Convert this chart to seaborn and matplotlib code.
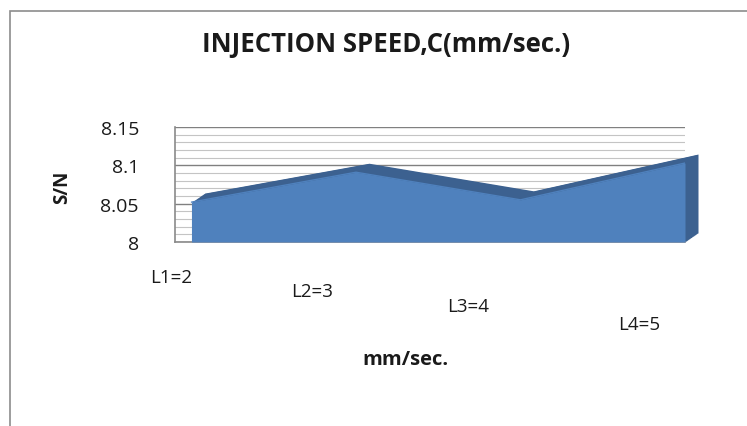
import numpy as np
import pandas as pd
import matplotlib
matplotlib.use("Agg")
import matplotlib.pyplot as plt
import matplotlib.transforms as mtransforms
from matplotlib.patches import Rectangle
import seaborn as sns

# ---- data ----
categories = ["L1=2", "L2=3", "L3=4", "L4=5"]
sn_values = [8.052, 8.091, 8.055, 8.103]
y_ticks = [8.0, 8.05, 8.1, 8.15]
y_tick_labels = ["8", "8.05", "8.1", "8.15"]
title = "INJECTION SPEED,C(mm/sec.)"
x_label = "mm/sec."
y_label = "S/N"

sns.set_style("white")
plt.rcParams["font.family"] = ["Open Sans", "DejaVu Sans"]

FRONT = "#4F81BD"
DARK = "#3C6190"
TXT = "#1A1A1A"

fig = plt.figure(figsize=(7.47, 4.27), dpi=100)
W, H = 747, 427

# outer chart border
fig.patches.append(Rectangle((10 / W, -0.1), 1.2, (H - 12) / H + 0.1,
                             transform=fig.transFigure, fill=False,
                             edgecolor="#8C8C8C", lw=1.2))

ax = fig.add_axes([175 / W, (H - 243) / H, 510 / W, 115 / H])
df = pd.DataFrame({"pos": np.arange(len(categories)), "sn": sn_values})

ax.set_xlim(-0.1, len(categories) - 1)
ax.set_ylim(y_ticks[0], y_ticks[-1])

# gridlines
ax.set_yticks(y_ticks)
ax.set_yticklabels(y_tick_labels)
ax.set_yticks(np.arange(8.0, 8.1501, 0.01), minor=True)
ax.grid(axis="y", which="major", color="#808080", lw=1.0)
ax.grid(axis="y", which="minor", color="#C4C4C4", lw=0.8)
ax.set_axisbelow(True)

# depth extrusion (dark top/side faces)
N = 16
dx, dy = 13.0, 9.0
for k in range(N, 0, -1):
    tr = ax.transData + mtransforms.Affine2D().translate(dx * k / N, dy * k / N)
    ax.fill_between(df["pos"], y_ticks[0], df["sn"], color=DARK, lw=0,
                    transform=tr, clip_on=False, zorder=2)

# front face
ax.fill_between(df["pos"], y_ticks[0], df["sn"], color=FRONT, lw=0, zorder=3)
sns.lineplot(data=df, x="pos", y="sn", color=FRONT, lw=1, ax=ax, zorder=4)

# spines
for s in ["top", "right"]:
    ax.spines[s].set_visible(False)
for s in ["left", "bottom"]:
    ax.spines[s].set_color("#8A8A8A")
    ax.spines[s].set_linewidth(1.2)

ax.tick_params(axis="y", which="both", length=0, pad=26, labelsize=14, labelcolor=TXT)
ax.set_xticks([])
ax.set_xlabel("")
ax.set_ylabel("")

# category labels, staggered as in the reference perspective
label_offsets = [(-20, -35), (-44, -49), (-52, -64), (-46, -82)]
for i, (lab, (ox, oy)) in enumerate(zip(categories, label_offsets)):
    ax.annotate(lab, xy=(i, 0), xycoords=("data", "axes fraction"),
                xytext=(ox, oy), textcoords="offset pixels",
                ha="center", va="center", fontsize=13.5, color=TXT)

fig.text(386 / W, 1 - 44 / H, title, ha="center", va="center",
         fontsize=18.5, fontweight="bold", color=TXT)
fig.text(62 / W, 1 - 187 / H, y_label, ha="center", va="center",
         rotation=90, fontsize=13.5, fontweight="bold", color=TXT)
fig.text(405 / W, 1 - 360 / H, x_label, ha="center", va="center",
         fontsize=14.5, fontweight="bold", color=TXT)

fig.savefig("out.png", dpi=100)
